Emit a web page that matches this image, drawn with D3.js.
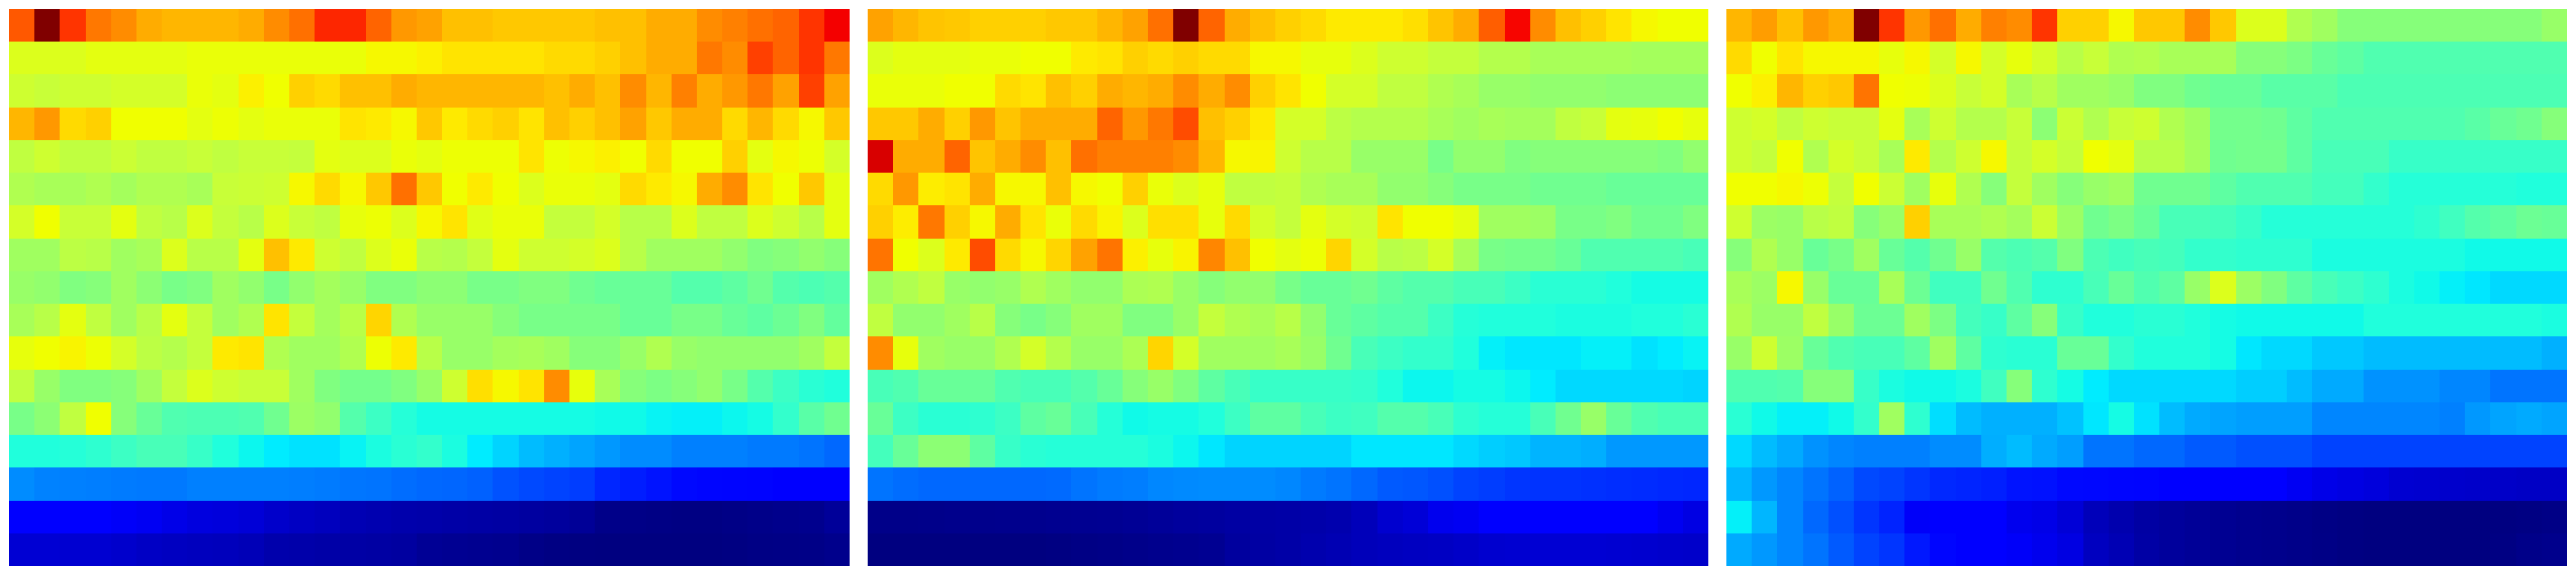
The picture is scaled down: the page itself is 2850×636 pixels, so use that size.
<!DOCTYPE html>
<html>
<head>
<meta charset="utf-8">
<style>html,body{margin:0;padding:0;background:#fff;overflow:hidden}svg{display:block}</style>
<script src="https://cdn.jsdelivr.net/npm/d3@7"></script>
</head>
<body>
<script>
const panelA = [
[82,100,85,79,77,74,73,73,73,74,77,80,86,86,81,76,75,72,72,71,71,71,71,72,72,74,74,77,78,80,81,85,90],
[61,61,61,62,62,62,62,63,63,63,63,63,63,63,65,65,66,68,68,68,68,69,69,70,72,74,74,79,77,84,81,85,79],
[59,58,59,59,60,60,60,63,62,66,64,70,69,72,72,74,73,73,73,73,73,72,74,72,77,73,78,74,76,79,75,84,75],
[73,76,69,70,64,64,64,62,63.5,62,63,63,63,68,67,65,71,67,69,70,68,72,70,72,75,71,74,74,69,73,69,65,71],
[57,59,57,57,58.5,57,57,58,57,58,58,57.5,62,61,61,63,62,63.5,63.5,63.5,68,63.5,65,66,64,69,64,64,70,62,65,63.5,60],
[55,54,54,55,53.5,55,55,54,58,58.5,59,65,69,65,71,80,71,64,67,64,61,63,63,62,69,67,65,74,77,68,64,71,62],
[60,64,58,58,62,57,56,61,57.5,56,61,58,57,62.5,63.5,61,65,68,61.5,63,63,57.5,57.5,60,56,56,61,57,57,61,59,56,62],
[53,53,56.5,56,53,54,61,56,56,62,72,67,59,57,61,63,56,55.5,57.5,62,59,59,60,61,56,53,53,53,51.5,50,50.5,51.5,50.5],
[52,51.5,50,50.5,53,51,49,50,53,51.5,49,51.5,53.5,52,50,50,51,51,49,49,50,50,48,47,47,47,45,45,46,48,45,44,45],
[54,56,62,57,53,56,62,57.5,53,55,68,57.5,53.5,56,69.5,55,52,52,52,50.5,49,49,49,49,47,47,49,49,47,46,47.5,50,46.5],
[62.5,64,65.5,63.5,60,56.5,55.5,57.5,67,68,55,53,53,55,63.5,67,56,52,52,53.5,54,53,50.5,50.5,52,55,52,51.5,51.5,51.5,51.5,53,57.5],
[57,52,50,50,50.5,53,57.5,61,59,58,58,53,50,48.5,48.5,50,52,59,68.5,65,68,77,62.5,54,50.5,49.5,50.5,51.5,49,45,42,40,39],
[49,51,57,64,50.5,47,44.5,44,44,44.5,48,52.5,51.5,45,42,39.5,38,38,38,38,38,38,38,37.5,37.5,36.5,36,36,37,38,41,45.5,48],
[39,39,39.5,40.5,42,43.5,43.5,41.5,39,37,35.5,34.5,34.5,36.5,38.5,40,41,38.5,35.5,33,31,30,29,28,27,27,26,26,26,25.5,25.5,25,24],
[27,26.2,26,25.8,25.6,25.4,25.4,26,26,26,26,25.8,25.6,25.2,25,24.4,24,23.8,23.4,22.2,21.5,21,20.6,18.8,18,17,16,15,14.5,14,13,13,13],
[11.5,11.5,11.5,11,10.5,10,9,8.2,8,7.5,6.5,5.8,5.4,4.5,4.2,3.8,3.6,3.4,3.2,3,2.8,2.5,2,0.8,0.6,0.4,0.3,0.3,0.5,0.8,1,1.2,2.2],
[7.2,7.2,7,7,6.6,6,5.6,5.4,5.2,4.8,3.8,3.6,3.4,3.2,3,2.8,1.8,1.6,1.4,1.2,0.6,0.3,0.1,0,0,0,0,0,0.2,0.4,0.5,0.6,1]
];
const panelB = [
[75,73,71.5,71,70,70,70,71,71,73,75,80,100,81,74,72,70,69,67,67,67,68.5,71.5,74,81.5,89,77,72,70,68,65,64,64],
[61,62,62,62,63,63,64,64,67,68,70,69,70,69,69,65,65,62.5,62.5,61,59,59,57.5,57.5,55.5,55.5,54,54,54,54,53.5,53.5,53.5],
[63,63,63,64,64,69,68,72,70,74,73,74,77,74,77,70,68,64,60,60,57,57,55,54,52,52,51.5,51.5,51.5,51,51,51,51],
[71,71,74,70,76,71.5,74,74,74,81,76,79,83,72,70,67,60,60,56.5,55.5,55.5,55.5,54,53,54,53.5,53.5,57,58,62,62.5,64,62.5],
[94,74,74,81,71.5,74,77,72,80,78,78,78,77,73,65,65.5,59,56,56,52,52,52,49,51.5,51.5,50,50.5,50.5,50.5,50.5,50.5,50,51.5],
[69,76,66.5,68,74,65,65,72,65,64,70,63,61,62.5,57,57,57.5,55,54,54,51.5,51.5,50.5,49,49,49,48,48,48,47,47,47,47],
[70,66.5,79,70,65,74,68,63,69,65.5,61,68.5,68.5,62.5,69,60,57.5,62,60,59,68,64,64,62,53,53,52.5,49,49,50,48,48,50],
[79.5,64,61,67,83,69,65,69.5,75,79.5,66,62.5,65.5,77.5,72,64,62,63.5,69.5,60,56,56.5,60,54,49,48.5,48.5,47,44.5,44.5,44.5,44.5,43.5],
[53,55,57,52,51.5,52,55,53,51.5,51.5,54.5,55,52,50.5,51.5,51.5,49,47,47,48,46,45,45,43.5,43.5,42,40,40,40,39,38,38,38],
[57,51.5,51.5,53,56,50.5,49,50.5,53,53,50,50,52,57.5,55,54,56,51.5,47,46,45,45,42,39.5,39,39,39,38.5,38.5,38.5,39,39,40],
[77,62.5,53,52,52,55,60,55.5,52,52,54.5,69.5,60,53,53,53,54,52,48,43.5,42,41,41,39,36,35,35,35,36,36,34.5,35.5,36.5],
[43.5,44.5,47,47,47,44.5,43.5,43.5,45,47,50.5,52,50,46,43.5,41.5,41.5,41.5,41.5,41,39,37,37,38,38,37,35.5,33.5,33.5,33.5,33.5,33.5,33],
[47,42,40,40,40.5,42,46,47,43.5,39.5,37.5,38,38,39,42,46,46,43.5,42,42.5,45,45,43.5,40.5,39.5,39.5,43.5,48,52,47,44.5,43.5,43.5],
[43,47,51,51,46,41.5,40,39.5,39.5,39.5,39.5,38.5,37,35,33,33,33,33,33,35,35,35,35,33.5,32.5,32,30.3,30.3,29.8,28,28,28,28],
[25,24.4,24,24,24,24,24,24.2,25,25.6,25.8,26.6,26.8,27,27,27,26.6,25.6,25,24,22.8,22.6,22,21,20.6,20,19.8,19.8,19.6,19.4,19.2,19,18.8],
[0.8,0.8,0.9,1,1,1.1,1.2,1.4,1.5,1.6,1.8,2.2,2.5,2.7,3,3.2,3.4,3.6,4,5,6.8,7.5,9.5,10,11.5,12,12,12,12,12,12,9.8,8.6],
[0,0,0,0,0,0,0,0.2,0.4,0.6,0.9,1.1,1.3,1.6,2.6,3,3.4,4,4.4,5,5.4,5.6,5.8,6.2,6.8,7,7.2,7.2,7.2,7,6.8,6.6,6.4]
];
const panelC = [
[73,75.5,72,76,74,100,85,76,80,74,78,77,85,70,70,65,71,71,77,71,61,61,55,53,50.5,50.5,50.5,50.5,50.5,50.5,50.5,50.5,52],
[69,64,68,65,65,65,62.5,65,60,65,60,62.5,60,56,58,55,55.5,54,54,54,50.5,50.5,49.5,47,46,44.5,44.5,44.5,44.5,44.5,44.5,44.5,44.5],
[64,66,73,70,71,79.5,64,63.5,61,58,60,54,56,53,53,52,50,50,48,47,47,45.5,45.5,45.5,44,44,44,44,44,44,44,44,44],
[59,60,57,59,58,58,62,54,59,55.5,55.5,58,51,58.5,55,58,59,55,53,48.5,48.5,48,46,44.5,44.5,44.5,44.5,44.5,44.5,45.5,47,48,50.5],
[59,57.5,64,55,60,58,54,67,55.5,59,65,57.5,60,57.5,64,62,56,56,53.5,48,48.5,48.5,46,43.5,43.5,43.5,41.5,41.5,41.5,41.5,41.5,41.5,41.5],
[64,64,65,63.5,57.5,64,58.5,53,62.5,55,50.5,57.5,53,50.5,52,53,48,48,48,46,44.5,44.5,44.5,43,43,41,39.5,39.5,39.5,39.5,39.5,39,39],
[59,52.5,52,56,57,50.5,52,70,54,54,55,53.5,58.5,52.5,48,49.5,47,43.5,43.5,43,41.5,39.5,39.5,39.5,39.5,39.5,39.5,40.5,42.5,45,46,47.5,47],
[50.5,55,52,47,49,53,47,45,48,52,45,44,45,50,44,42.5,43.5,43,41,41,40.5,40.5,40.5,38.5,38.5,38.5,38.5,38.5,38.5,37.5,37.5,37.5,37.5],
[54,52.5,65,52,47,47,54,47.5,42.5,42.5,48,44.5,40.5,40.5,43.5,47,44.5,46,52,61,52.5,50,46,43.5,42,40.5,38.5,37.5,36,35,33.5,33.5,33.5],
[55,52,52,57,52,47.5,47.5,53,49.5,43,41.5,46,50.5,41.5,39,39,40,40,39,38,37.5,37.5,37.5,37.5,37.5,39,39,39,39,39,39,39,38.5],
[52,59,52.5,47,44.5,43.5,43.5,46,53,46,40.5,40,40,47,47,41,39,39,39,38,35,33.5,33.5,32,32,31,31,31,31,31,31,31,30],
[44.5,44.5,45,50.5,50.5,41.5,38.5,37.5,37.5,38.5,42.5,50.5,40.5,38,35.5,33.5,33.5,33.5,33.5,33.5,32.5,32.5,31,29.5,29.5,27.5,27.5,27.5,26.5,26.5,25,25,25],
[40,37.5,36,36,37.5,41,53,40.5,34,31,30,30,30,31.5,35,38,34.5,31,29.5,29,28.5,28.5,28.5,26.5,26.5,26.5,26.5,26.5,26,28,29,29.5,29],
[33.5,31,29.5,27.5,26.5,26,26,26,27,27,29.8,31,29.5,28.5,25,25,24,24,22.8,22.8,22,22,22,21,21,21,21,21,21,21,21,21,21],
[30.5,28,26.5,25,23.5,21.5,21,20,19,18.6,18.2,17,16.8,16,15.5,15,14.5,13,13,13,13,12,10,9,8.5,8,7,6.8,6.6,6.4,6.2,6,6],
[36,30.5,26.5,24,22,20,18.5,10.5,12,12,11.5,9.5,9,7.5,5,4,3,2.4,2,1.6,1.2,1,0.8,0.4,0.2,0,0,0,0,0,0.1,0.3,0.5],
[29.5,28,26.5,25,22.8,21,20,17.5,15,13,12.5,10.5,9.5,8.5,5.5,4.5,3.2,2.4,2,1.6,1.2,1,0.8,0.5,0.2,0,0,0,0,0,0.3,0.8,1]
];
const panels = [panelA, panelB, panelC];
const jetStops = [0,11,13,16,19,22,26,30,33,35.5,37.5,39,42,45,47,50,52,54,56,58,60,62,64,66,68,70,72,74,76,78,80,82,85,88,90,94,100];
const jetColors = ["#000080","#0000ff","#0000ff","#0008ff","#0028ff","#0050ff","#0080ff","#00b0ff","#00d4ff","#00ecff","#10fae8","#20ffdc","#3cffc4","#54ffac","#68ff98","#80ff80","#98ff68","#a8ff58","#b8ff48","#c8ff38","#d4ff28","#e4ff10","#f0ff00","#fcf000","#ffe400","#ffd000","#ffc000","#ffac00","#ff9800","#ff8000","#ff7000","#ff5800","#ff3400","#fa0a00","#f40000","#d80000","#800000"];

const W = 2850, H = 636;
const color = d3.scaleLinear().domain(jetStops).range(jetColors).interpolate(d3.interpolateRgb).clamp(true);
const px = d3.scaleBand().domain(d3.range(panels.length)).range([10, 2840]).paddingInner(20/950);
const svg = d3.select("body").append("svg").attr("width", W).attr("height", H);
svg.append("rect").attr("width", W).attr("height", H).attr("fill", "#fff");

panels.forEach((grid, p) => {
  const x = d3.scaleBand().domain(d3.range(grid[0].length)).range([px(p), px(p) + px.bandwidth()]);
  const y = d3.scaleBand().domain(d3.range(grid.length)).range([10, 626]);
  const g = svg.append("g").attr("class", "panel");
  const cells = grid.flatMap((row, r) => row.map((v, c) => ({r, c, v})));
  g.selectAll("rect").data(cells).join("rect")
    .attr("x", d => x(d.c))
    .attr("y", d => y(d.r))
    .attr("width", x.bandwidth())
    .attr("height", y.bandwidth())
    .attr("fill", d => color(d.v))
    .attr("shape-rendering", "crispEdges");
});
</script>
</body>
</html>
